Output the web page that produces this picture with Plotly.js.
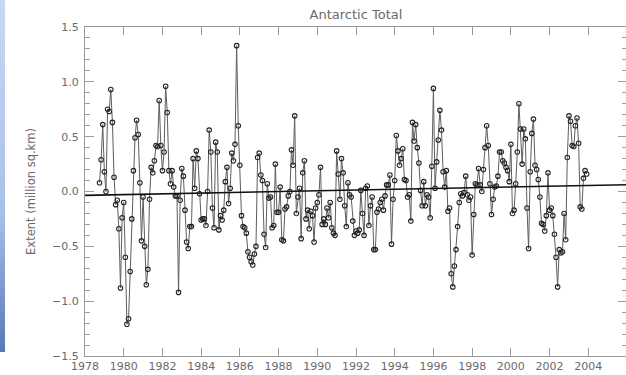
<!DOCTYPE html>
<html>
<head>
<meta charset="utf-8">
<script src="https://cdn.plot.ly/plotly-3.0.1.min.js"></script>
<style>
  html, body { margin: 0; padding: 0; width: 626px; height: 375px; overflow: hidden; background: #fff; }
  #chart { position: absolute; left: 0; top: 0; width: 628px; height: 375px; }
  #strip { position: absolute; left: 0; top: 0; width: 5px; height: 352px;
           background: linear-gradient(#c9d8f2, #a9c0ea 60%, #5a78b8); z-index: 5; }
</style>
</head>
<body>
<div id="chart"></div>
<div id="strip"></div>
<script>
// Monthly sea-ice extent anomalies (million sq.km)
const startYear = 1978;
const startMonth = 10;
const extent = [
  0.08, 0.29, 0.61, 0.18, 0.00, 0.75, 0.73, 0.93, 0.63, 0.13,
  -0.12, -0.08, -0.34, -0.88, -0.24, -0.10, -0.60, -1.21, -1.16, -0.73,
  -0.25, 0.19, 0.49, 0.65, 0.52, 0.08, -0.45, -0.05, -0.50, -0.85,
  -0.71, -0.07, 0.22, 0.17, 0.28, 0.42, 0.41, 0.83, 0.42, 0.19,
  0.36, 0.96, 0.72, 0.19, 0.07, 0.19, 0.04, -0.04, -0.04, -0.92,
  -0.08, 0.21, 0.14, -0.17, -0.46, -0.52, -0.32, -0.32, 0.30, 0.03,
  0.37, 0.30, -0.02, -0.26, -0.25, -0.25, -0.31, 0.00, 0.56, 0.36,
  -0.15, -0.33, 0.45, 0.36, -0.35, -0.22, -0.26, -0.17, 0.09, 0.22,
  -0.11, 0.03, 0.35, 0.28, 0.43, 1.33, 0.60, 0.24, -0.22, -0.32,
  -0.33, -0.38, -0.55, -0.60, -0.64, -0.67, -0.57, -0.50, 0.31, 0.35,
  0.15, 0.10, -0.39, -0.51, 0.07, -0.06, -0.05, -0.33, -0.31, 0.25,
  -0.19, -0.19, 0.04, -0.44, -0.45, -0.16, -0.14, -0.04, 0.00, 0.38,
  0.24, 0.69, -0.20, -0.05, 0.03, -0.43, 0.17, 0.28, -0.25, -0.17,
  -0.34, -0.18, -0.22, -0.46, -0.15, -0.10, -0.03, 0.22, -0.30, -0.25,
  -0.30, -0.15, -0.24, -0.10, -0.33, -0.38, -0.40, 0.37, 0.16, -0.07,
  0.30, 0.17, -0.13, -0.32, 0.08, -0.03, -0.05, -0.27, -0.40,
  -0.36, -0.38, -0.35, 0.01, -0.20, -0.40, 0.03, 0.05, -0.31, -0.13,
  -0.05, -0.53, -0.53, -0.19, -0.16, -0.10, -0.07, -0.17, -0.04, 0.06,
  0.06, 0.15, -0.48, -0.07, 0.10, 0.51, 0.37, 0.24, 0.30, 0.39,
  0.11, 0.10, -0.05, -0.03, -0.27, 0.63, 0.46, 0.61, 0.40, 0.26,
  0.01, -0.13, 0.09, -0.13, -0.03, -0.05, -0.24, 0.23, 0.94, 0.03,
  0.27, 0.47, 0.74, 0.56, 0.18, 0.04, 0.19, -0.18, -0.15, -0.75,
  -0.87, -0.68, -0.53, -0.32, -0.10, -0.02, -0.04, -0.01, 0.14, -0.03,
  -0.08, -0.05, -0.58, -0.21, 0.07, 0.06, 0.21, 0.06, 0.00, 0.20,
  0.40, 0.60, 0.42, 0.07, -0.21, -0.07, 0.04, 0.05, 0.14, 0.36,
  0.36, 0.28, 0.26, 0.22, 0.19, 0.09, 0.43, -0.20, -0.17, 0.07,
  0.36, 0.80, 0.57, 0.25, 0.57, 0.48, -0.15, -0.52, 0.18, 0.53,
  0.66, 0.24, 0.20, 0.11, -0.05, -0.29, -0.30, -0.36, -0.22, 0.17,
  -0.17, -0.15, -0.22, -0.39, -0.60, -0.87, -0.53, -0.56, -0.55, -0.20,
  -0.44, 0.31, 0.69, 0.64, 0.42, 0.41, 0.60, 0.67, 0.44, -0.14,
  -0.16, 0.12, 0.19, 0.16
];
// Linear trend endpoints
const trendYears = [1978, 2006];
const trendValues = [-0.035, 0.062];
// Axis ticks
const xTickYears = [1978, 1980, 1982, 1984, 1986, 1988, 1990, 1992, 1994, 1996, 1998, 2000, 2002, 2004];

const months = extent.map((v, i) => startYear + (startMonth - 1 + i) / 12);

const axisColor = '#9a9a9a';
const textColor = '#6a6a6a';
const font = { family: 'DejaVu Sans, sans-serif', size: 11, color: textColor };

const traces = [
  {
    x: months, y: extent, type: 'scatter', mode: 'lines+markers',
    line: { color: '#5e5e5e', width: 1 },
    marker: { symbol: 'circle-open', size: 4.5, color: '#222', line: { width: 1.1, color: '#222' } },
    hoverinfo: 'x+y', showlegend: false
  },
  {
    x: trendYears, y: trendValues, type: 'scatter', mode: 'lines',
    line: { color: '#111', width: 1.6 }, showlegend: false, hoverinfo: 'skip'
  }
];

const layout = {
  width: 628, height: 375,
  margin: { l: 85, r: 1, t: 27, b: 19 },
  paper_bgcolor: '#fff', plot_bgcolor: '#fff',
  font: font,
  title: { text: 'Antarctic Total', font: { family: 'DejaVu Sans, sans-serif', size: 13, color: textColor },
           x: 0.5, xref: 'paper', y: 0.962, yref: 'container', yanchor: 'middle' },
  xaxis: {
    range: [1978, 2006], showgrid: false, zeroline: false,
    showline: true, linecolor: axisColor, linewidth: 1, mirror: 'ticks',
    ticks: 'inside', ticklen: 8, tickcolor: axisColor, tickwidth: 1,
    tickmode: 'array', tickvals: xTickYears, ticktext: xTickYears.map(String),
    tickfont: font, ticklabelstandoff: 0
  },
  yaxis: {
    range: [-1.5, 1.5], showgrid: false, zeroline: false,
    showline: true, linecolor: axisColor, linewidth: 1, mirror: 'ticks',
    ticks: 'inside', ticklen: 9, tickcolor: axisColor, tickwidth: 1,
    tickmode: 'linear', tick0: 0, dtick: 0.5, tickformat: '.1f',
    tickfont: font, ticklabelstandoff: 3,
    minor: { dtick: 0.1, tick0: 0, ticks: 'inside', ticklen: 5, tickcolor: axisColor, tickwidth: 1, showgrid: false },
    title: { text: 'Extent (million sq.km)', font: { family: 'DejaVu Sans, sans-serif', size: 11.5, color: textColor }, standoff: 14 }
  }
};

Plotly.newPlot('chart', traces, layout, { displayModeBar: false, staticPlot: true });
</script>
</body>
</html>
